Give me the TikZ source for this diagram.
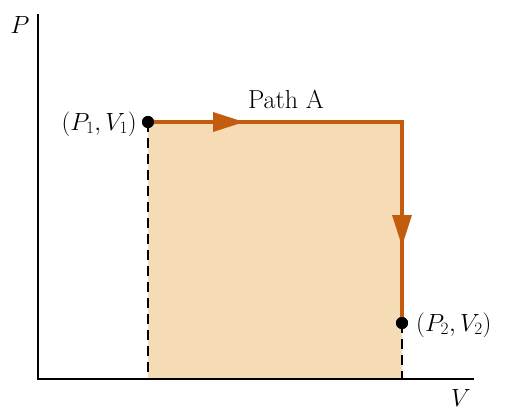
\documentclass[tikz,border=0pt]{standalone}
\usetikzlibrary{arrows.meta,decorations.markings}
\definecolor{pathorange}{RGB}{196,92,16}
\definecolor{areafill}{RGB}{246,220,180}
\begin{document}
\begin{tikzpicture}[x=1pt,y=-1pt,
  axis/.style={line width=2pt,black},
  guide/.style={line width=1.8pt,black,dash pattern=on 10pt off 6pt},
  proc/.style={line width=4pt,pathorange,line join=miter},
  dot/.style={circle,fill=black,inner sep=0pt,minimum size=12pt},
  lbl/.style={font=\fontsize{26}{30}\selectfont,inner sep=0pt}]
\useasboundingbox (0,0) rectangle (512,420);
\coordinate (O) at (38,379);
\coordinate (ytop) at (38,14);
\coordinate (xend) at (474,379);
\coordinate (b1) at (148,379);
\coordinate (b2) at (402,379);
\coordinate (c) at (402,122);
\fill[areafill] (148,122) rectangle (402,379);
\node[dot] (p1) at (148,122) {};
\node[dot] (p2) at (402,323) {};
\draw[guide] (p1.center) -- (b1);
\draw[guide] (p2.center) -- (b2);
\draw[proc] (p1.center) -- (c) -- (p2.center);
\fill[pathorange] (213,112) -- (244,122) -- (213,132) -- cycle;
\fill[pathorange] (392,215) -- (402,246) -- (412,215) -- cycle;
\node[dot] at (148,122) {};
\node[dot] at (402,323) {};
\draw[axis] (ytop) -- (O) -- (xend);
\node[lbl,anchor=base] (pl) at (20,34) {$P$};
\node[lbl,anchor=base] (vl) at (461,406) {$V$};
\node[lbl,anchor=base] (pa) at (286,109) {Path A};
\node[lbl,anchor=east] (l1) at (137,124) {$(P_1, V_1)$};
\node[lbl,anchor=west] (l2) at (416,325) {$(P_2, V_2)$};
\end{tikzpicture}
\end{document}
